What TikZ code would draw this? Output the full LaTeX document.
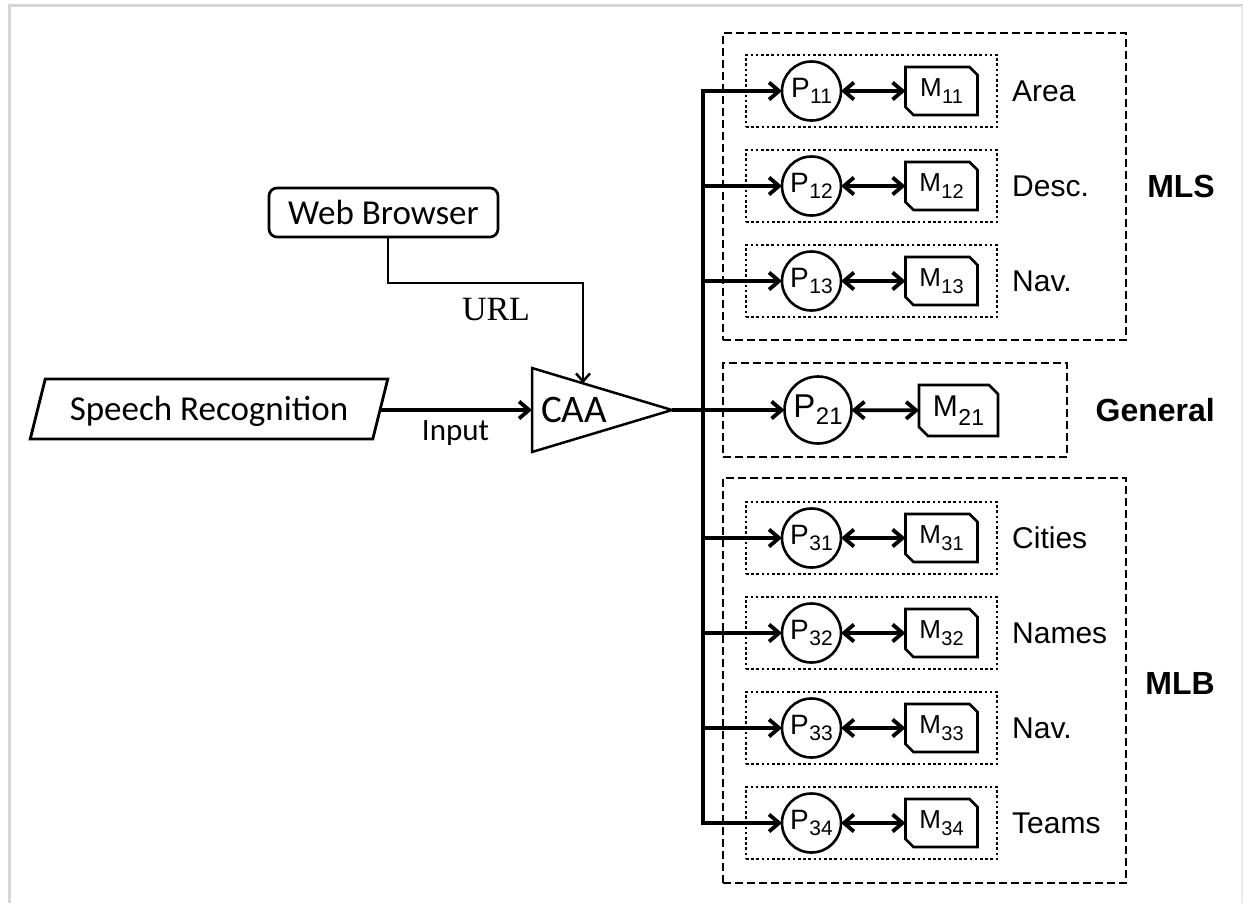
\documentclass[tikz,border=0pt]{standalone}
\usepackage{fontspec}
\setmainfont{Liberation Sans}
\newfontfamily\calib{Carlito}
\newfontfamily\serifu{Liberation Serif}
\usetikzlibrary{arrows.meta}
\definecolor{framegray}{HTML}{D6D6D6}
% font size in points, leading equal to size
\newcommand{\fs}[1]{\fontsize{#1}{#1}\selectfont}
% letter with a lowered index: letter, index, letter size, index size, drop
\newcommand{\idx}[5]{{\fs{#3}#1}\kern0.5pt\raisebox{-#5pt}{\fs{#4}#2}}
\begin{document}
\begin{tikzpicture}[x=1pt,y=-1pt,
  outline/.style={draw, line width=2.8pt, line join=miter},
  proc/.style={circle, draw, line width=2.6pt, minimum size=59pt, inner sep=0pt, outer sep=0pt},
  procbig/.style={proc, minimum size=67pt},
  mem/.style={rectangle, minimum width=72pt, minimum height=48pt, inner sep=0pt, outer sep=0pt},
  membig/.style={mem, minimum width=79pt, minimum height=51pt},
  rowframe/.style={draw, line width=2.6pt, dash pattern=on 2.6pt off 2.6pt, minimum width=251pt, minimum height=72pt, inner sep=0pt},
  groupframe/.style={draw, line width=2.8pt, dash pattern=on 8pt off 4pt, inner sep=0pt},
  barb/.tip={Straight Barb[length=10pt,width=17pt]},
  feed/.style={line width=3.8pt, -barb},
  link/.style={line width=3.8pt, barb-barb},
  rowlabel/.style={anchor=base west, inner sep=0pt, font={\fs{30}}},
  grouplabel/.style={anchor=base east, inner sep=0pt, font={\bfseries\fs{32}}},
]
\useasboundingbox (0,0) rectangle (1243,903);

% page frame
\draw[framegray, line width=3pt] (9,903) -- (9,5.5) -- (1243,5.5);
\draw[framegray!50, line width=2pt] (1242,5.5) -- (1242,903);

% ---------- input side ----------
\node[draw, line width=2.7pt, rounded corners=8pt, minimum width=229pt, minimum height=49pt,
      inner sep=0pt, outer sep=0pt, text height=23pt, text depth=0pt, font={\calib\fs{35}}]
  (wb) at (383.5,212.5) {Web Browser};

\node[minimum width=342.5pt, minimum height=60pt, inner sep=0pt, outer sep=0pt,
      text height=23pt, text depth=0pt, font={\calib\fs{35}}]
  (sr) at (209,409) {Speech Recognition};
\draw[outline] ([xshift=-7.5pt]sr.south west) -- ([xshift=7.5pt]sr.north west)
  -- ([xshift=7.5pt]sr.north east) -- ([xshift=-7.5pt]sr.south east) -- cycle;

% CAA amplifier triangle
\coordinate (caaA) at (532,368);
\coordinate (caaB) at (532,452);
\coordinate (caaTip) at (672,410);
\coordinate (caaL) at (532,410);
\coordinate (caaTop) at (583,383.3);
\draw[line width=2.5pt, line join=miter] (caaA) -- (caaTip) -- (caaB) -- cycle;
\node[anchor=base west, inner sep=0pt, font={\calib\fs{39}}] (caa) at (541,422) {CAA};

\draw[feed] (sr.east |- caaL) -- (caaL);
\node[anchor=base, inner sep=0pt, font={\calib\fs{31}}] (inp) at (455.5,440) {Input};

\draw[line width=2.5pt, -{Straight Barb[length=8pt,width=14pt]}]
  ([xshift=4.5pt]wb.south) -- ++(0,46) -| (caaTop);
\node[anchor=base, inner sep=0pt, font={\serifu\fs{34}}] (url) at (496,320) {URL};

% ---------- group frames ----------
\node[groupframe, minimum width=403pt, minimum height=307pt] (mls) at (924.5,186.5) {};
\node[groupframe, minimum width=344pt, minimum height=94pt] (gen) at (895,410) {};
\node[groupframe, minimum width=403pt, minimum height=405pt] (mlb) at (924.5,680.5) {};

\node[grouplabel] (mlsl) at (1215,197.5) {MLS};
\node[grouplabel] (genl) at (1215,421.5) {General};
\node[grouplabel] (mlbl) at (1215,694.5) {MLB};

% ---------- bus ----------
\coordinate (b11) at (703,91);
\coordinate (b34) at (703,823);
\coordinate (b21) at (703,410);
\draw[line width=4.5pt, line cap=rect] (b11) -- (b34);
\draw[line width=4.5pt] (caaTip) -- (b21);

% ---------- processor / memory rows ----------
\foreach \y/\id/\name in {91/11/Area, 186/12/Desc., 281/13/Nav.,
                          538/31/Cities, 633/32/Names, 728/33/Nav., 823/34/Teams}{
  \node[rowframe] (f\id) at (871.5,\y) {};
  \node[proc] (p\id) at (811.5,\y) {\idx{P}{\id}{28}{21}{6}};
  \node[mem] (m\id) at (941.5,\y) {\idx{M}{\id}{26}{20}{7.5}};
  \draw[outline] (m\id.north west) -- ([xshift=-8pt]m\id.north east)
    -- ([yshift=-8pt]m\id.north east) -- (m\id.south east)
    -- ([xshift=8pt]m\id.south west) -- ([yshift=8pt]m\id.south west) -- cycle;
  \node[rowlabel] (l\id) at (1012,\y+10.5) {\name};
  \coordinate (b\id) at (703,\y);
  \draw[feed] (b\id) -- (p\id);
  \draw[link] (p\id) -- (m\id);
}

% general row
\node[procbig] (p21) at (818,410) {\idx{P}{21}{33}{24}{7}};
\node[membig] (m21) at (958.5,410.5) {\idx{M}{21}{30}{23}{8.5}};
\draw[outline] (m21.north west) -- ([xshift=-9pt]m21.north east)
  -- ([yshift=-9pt]m21.north east) -- (m21.south east)
  -- ([xshift=9pt]m21.south west) -- ([yshift=9pt]m21.south west) -- cycle;
\draw[feed] (b21) -- (p21);
\draw[link] (p21) -- (m21);
\end{tikzpicture}
\end{document}
